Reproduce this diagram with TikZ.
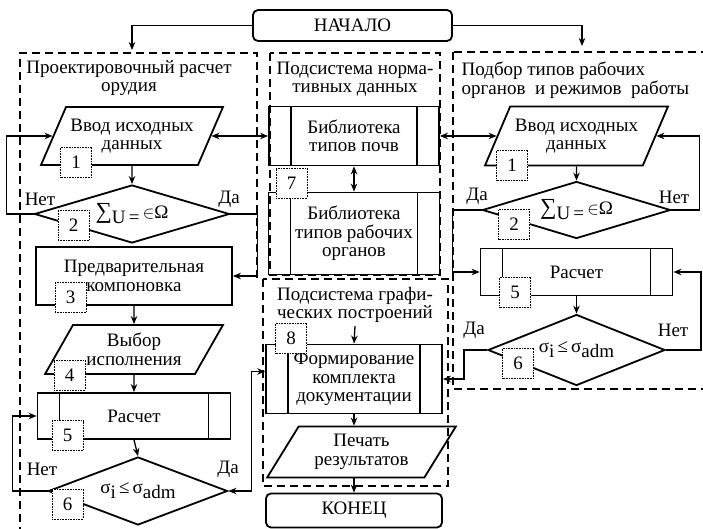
\documentclass[tikz,border=0pt]{standalone}
\usepackage{fontspec}
\setmainfont{Liberation Serif}
\newfontfamily\flowfont{Liberation Serif}
\usetikzlibrary{arrows.meta,positioning,shapes.geometric}
\newcommand\sumU{{\fontsize{23}{23}\selectfont ∑}\raisebox{-5pt}{U\,=}\,$\in$Ω}
\newcommand\sigadm{σ\raisebox{-5pt}{i}\,≤\,σ\raisebox{-5pt}{adm}}

\begin{document}
\begin{tikzpicture}[x=1pt,y=-1pt,on grid,node distance=70pt,
  font=\flowfont\fontsize{19}{18.5}\selectfont,
  >={Stealth[length=8pt,width=6.5pt]},line width=1.3pt,
  base/.style={draw,line width=1.8pt,align=center,inner sep=0pt},
  term/.style={base,rounded corners=5pt},
  io/.style={base,trapezium,trapezium left angle=56,trapezium right angle=124,trapezium stretches=true},
  cond/.style={base,diamond},
  proc/.style={base,rectangle},
  subr/.style={proc,path picture={
    \draw[line width=1.8pt] ([xshift=22pt]path picture bounding box.north west) -- ([xshift=22pt]path picture bounding box.south west)
      ([xshift=-22pt]path picture bounding box.north east) -- ([xshift=-22pt]path picture bounding box.south east);}},
  num/.style={draw,densely dotted,line width=0.6pt,fill=white,minimum width=31pt,minimum height=30pt,inner sep=0pt},
  sysbox/.style={line width=1.8pt,dash pattern=on 8pt off 5pt},
  title/.style={align=center,inner sep=0pt},
  lbl/.style={inner sep=0pt}]
\useasboundingbox (0,0) rectangle (703,529);

\draw[sysbox] (257,278) -- (257,53) -- (20,53) -- (20,535);
\draw[sysbox] (270,53) rectangle (440,275);
\draw[sysbox] (263,279) rectangle (448,486);
\draw[sysbox] (453,52) rectangle (712,389);

\node[title] (tL) at (129,78) {Проектировочный расчет\\орудия};
\node[title] (tN) at (355,79) {Подсистема норма-\\тивных данных};
\node[title,align=left,anchor=west] (tR) at (461,80) {Подбор типов рабочих\\органов\ \ и режимов\ \ работы};
\node[title] (tG) at (355,305) {Подсистема графи-\\ческих построений};

\node[term,minimum width=199pt,minimum height=31pt] (start) at (352.5,25.5) {НАЧАЛО};
\node[io,minimum width=182pt,minimum height=58pt] (in1L) at (132,136) {Ввод исходных\\данных};
\node[cond,aspect=3.3,minimum width=195pt,minimum height=58pt,below=78pt of in1L] (dec2L) {\sumU};
\node[proc,minimum width=196pt,minimum height=58pt,below=62pt of dec2L,xshift=2pt] (pre3) {Предварительная\\компоновка};
\node[io,minimum width=178pt,minimum height=49pt,below=73.5pt of pre3] (sel4) {Выбор\\исполнения};
\node[subr,minimum width=193pt,minimum height=46pt,below=66.5pt of sel4] (calc5L) {Расчет};
\node[cond,aspect=2.6,minimum width=179pt,minimum height=68pt,below=75pt of calc5L,xshift=4pt] (dec6L) {\sigadm};

\node[subr,minimum width=170pt,minimum height=59pt,right=222pt of in1L] (lib1) {Библиотека\\типов почв};
\node[subr,minimum width=171pt,minimum height=82pt,below=97.5pt of lib1] (lib2) {Библиотека\\типов рабочих\\органов};
\node[subr,minimum width=176pt,minimum height=69pt,below=145.5pt of lib2] (form) {Формирование\\комплекта\\документации};
\node[io,minimum width=189pt,minimum height=51pt,below=73pt of form,xshift=7.5pt] (print) {Печать\\результатов};
\node[term,minimum width=176pt,minimum height=34pt,below=58.5pt of print,xshift=-7.5pt] (end) {КОНЕЦ};

\node[io,minimum width=183pt,minimum height=59pt,right=222.5pt of lib1] (in1R) {Ввод исходных\\данных};
\node[cond,aspect=3.3,minimum width=188pt,minimum height=57pt,below=74pt of in1R] (dec2R) {\sumU};
\node[subr,minimum width=192pt,minimum height=47pt,below=62pt of dec2R] (calc5R) {Расчет};
\node[cond,aspect=2.5,minimum width=177pt,minimum height=71pt,below=78pt of calc5R] (dec6R) {\sigadm};

\coordinate (cL) at (132,50);
\coordinate (cR) at (582,46);
\coordinate (cG) at (355,326);

\draw[->] (start.west) -| (cL);
\draw[->] (start.east) -| (cR);
\draw[<->] (in1L.right side) -- (lib1.west);
\draw[<->] (lib1.east) -- (in1R.left side);
\draw[<->] (lib1.south) -- (lib2.north);
\path[->] (in1L.south) edge (dec2L.north)
  (pre3.south) edge (sel4.north)
  (sel4.south) edge (calc5L.north)
  (in1R.south) edge (dec2R.north)
  (calc5R.south) edge (dec6R.north)
  (cG) edge (form.north);
\draw[->] (calc5L.south) -- (dec6L.north);
\draw[->] (dec2L.west) -- ++(-27,0) |- (in1L.left side);
\draw[->] (dec2L.east) -- ++(27,0) |- (pre3.east);
\draw[->] (dec6L.west) -- ++(-35,0) |- (calc5L.west);
\draw[<->] (dec6L.east) -- ++(23,0) |- ([yshift=7.5pt]form.west);
\draw[->] (dec2R.east) -- ++(28,0) |- (in1R.right side);
\draw[->] (dec2R.west) -- ++(-29,0) |- (calc5R.west);
\draw[->] (dec6R.east) -- ++(35,0) |- (calc5R.east);
\draw[->] (dec6R.west) -- ++(-23,0) |- (form.east);
\draw[->] (form.south) -- (form.south |- print.north);
\draw[->] (print.south -| end.north) -- (end.north);

\node[lbl] (noL2) at (40,199) {Нет};
\node[lbl] (yesL2) at (229,199) {Да};
\node[lbl] (noL6) at (42,469) {Нет};
\node[lbl] (yesL6) at (228,469) {Да};
\node[lbl] (yesR2) at (477,196) {Да};
\node[lbl] (noR2) at (674,197) {Нет};
\node[lbl] (yesR6) at (474,330) {Да};
\node[lbl] (noR6) at (673,330) {Нет};

\node[num] (n1L) at (76,162) {1};
\node[num] (n2L) at (73.5,225.5) {2};
\node[num] (n3L) at (70.5,297.5) {3};
\node[num] (n4L) at (69.5,375) {4};
\node[num] (n5L) at (67.5,435.5) {5};
\node[num] (n6L) at (67.5,504) {6};
\node[num] (n1R) at (512,165) {1};
\node[num] (n2R) at (514,224.5) {2};
\node[num] (n5R) at (515,292) {5};
\node[num] (n6R) at (518,363) {6};
\node[num] (n7) at (291.5,183) {7};
\node[num] (n8) at (291,338) {8};
\end{tikzpicture}
\end{document}
